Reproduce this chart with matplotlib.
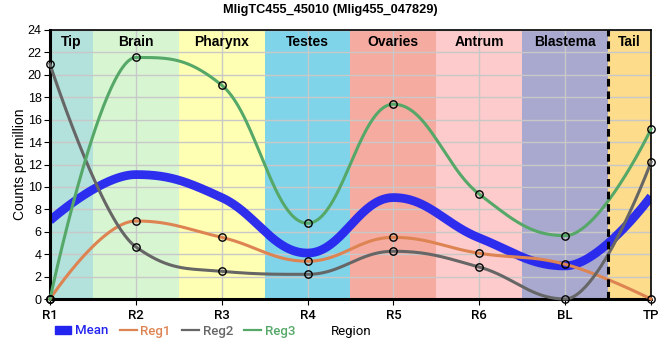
import numpy as np
import matplotlib
matplotlib.use("Agg")
import matplotlib.pyplot as plt
from matplotlib.lines import Line2D
from matplotlib.patches import Patch

plt.rcParams['font.family'] = ['Liberation Sans', 'DejaVu Sans']

# data
cats = ["R1", "R2", "R3", "R4", "R5", "R6", "BL", "TP"]
mean = [7.0, 11.1, 9.05, 4.1, 9.05, 5.45, 2.95, 9.15]
reg1 = [0.0, 6.96, 5.5, 3.37, 5.5, 4.08, 3.1, 0.0]
reg2 = [20.95, 4.65, 2.47, 2.2, 4.26, 2.85, 0.0, 12.2]
reg3 = [0.0, 21.55, 19.08, 6.76, 17.38, 9.35, 5.65, 15.15]

regions = ["Tip", "Brain", "Pharynx", "Testes", "Ovaries", "Antrum", "Blastema", "Tail"]
region_edges = [0, 0.5, 1.5, 2.5, 3.5, 4.5, 5.5, 6.5, 7]
region_colors = ["#b3e1dc", "#d7f5d1", "#ffffb4", "#80d4ea", "#f5ab9f",
                 "#fdcbcb", "#a9a9cf", "#fddc8c"]


def spline(xs, ys, n=60):
    # smooth curve through the points, control points clamped so no false extremes
    npt = len(xs)
    lc = [None] * npt
    rc = [None] * npt
    sm = 1.5
    for i in range(1, npt - 1):
        lx = (sm * xs[i] + xs[i - 1]) / (sm + 1)
        ly = (sm * ys[i] + ys[i - 1]) / (sm + 1)
        rx = (sm * xs[i] + xs[i + 1]) / (sm + 1)
        ry = (sm * ys[i] + ys[i + 1]) / (sm + 1)
        corr = (ry - ly) * (rx - xs[i]) / (rx - lx) + ys[i] - ry
        ly += corr
        ry += corr
        last, cur, nxt = ys[i - 1], ys[i], ys[i + 1]
        if ly > last and ly > cur:
            ly = max(last, cur)
            ry = 2 * cur - ly
        elif ly < last and ly < cur:
            ly = min(last, cur)
            ry = 2 * cur - ly
        if ry > nxt and ry > cur:
            ry = max(nxt, cur)
            ly = 2 * cur - ry
        elif ry < nxt and ry < cur:
            ry = min(nxt, cur)
            ly = 2 * cur - ry
        lc[i] = (lx, ly)
        rc[i] = (rx, ry)
    t = np.linspace(0, 1, n)
    ox, oy = [], []
    for i in range(1, npt):
        p0 = (xs[i - 1], ys[i - 1])
        p1 = rc[i - 1] if rc[i - 1] else p0
        p3 = (xs[i], ys[i])
        p2 = lc[i] if lc[i] else p3
        b = [(1 - t) ** 3, 3 * (1 - t) ** 2 * t, 3 * (1 - t) * t ** 2, t ** 3]
        ox.append(b[0] * p0[0] + b[1] * p1[0] + b[2] * p2[0] + b[3] * p3[0])
        oy.append(b[0] * p0[1] + b[1] * p1[1] + b[2] * p2[1] + b[3] * p3[1])
    return np.concatenate(ox), np.concatenate(oy)


fig = plt.figure(figsize=(6.6, 3.6), dpi=100)
ax = fig.add_axes([50 / 660, 1 - 299 / 360, 601 / 660, 269 / 360])

x = np.arange(len(cats))
for i, name in enumerate(regions):
    ax.axvspan(region_edges[i], region_edges[i + 1], color=region_colors[i], lw=0, zorder=0)
    ax.text((region_edges[i] + region_edges[i + 1]) / 2, 22.9, name, ha='center', va='center',
            fontsize=10, fontweight='bold', zorder=5)

ax.set_axisbelow(True)
ax.grid(True, color='#c8c8c8', lw=1)

c_mean, c1, c2, c3 = '#2424f0', '#dd8452', '#666666', '#55a868'

sx, sy = spline(x, mean)
ax.plot(sx, sy, color=c_mean, lw=6.3, alpha=0.95, solid_capstyle='butt', zorder=2)
for ys, c in [(reg1, c1), (reg2, c2), (reg3, c3)]:
    sx, sy = spline(x, ys)
    ax.plot(sx, sy, color=c, lw=2.2, zorder=3, clip_on=False)
    ax.plot(x, ys, 'o', ms=5.3, mfc='none', mec='black', mew=1, zorder=4, clip_on=False)

ax.axvline(6.5, color='black', lw=2.2, ls=(0, (2.5, 1.6)), zorder=4)

ax.set_xlim(0, 7)
ax.set_ylim(0, 24)
ax.set_xticks(x)
ax.set_xticklabels(cats, fontsize=9.5, family=['Roboto', 'DejaVu Sans'], fontweight='medium')
ax.set_yticks(np.arange(0, 25, 2))
ax.tick_params(axis='y', labelsize=9, length=4, pad=2)
ax.tick_params(axis='x', length=4, pad=3)

for s in ['left', 'bottom']:
    ax.spines[s].set_linewidth(2.2)
for s in ['top', 'right']:
    ax.spines[s].set_linewidth(1.2)

ax.set_ylabel("Counts per million", fontsize=10)
ax.yaxis.set_label_coords(-23 / 601, 0.5)

fig.suptitle("MligTC455_45010 (Mlig455_047829)", fontsize=9.2, fontweight='bold', y=1 - 10 / 360, va='center')

handles = [Patch(color=c_mean),
           Line2D([], [], color=c1, lw=1.6),
           Line2D([], [], color=c2, lw=1.6),
           Line2D([], [], color=c3, lw=1.6)]
labels = ["Mean", "Reg1", "Reg2", "Reg3"]
leg = fig.legend(handles, labels, loc='center left', bbox_to_anchor=(55 / 660, 1 - 331 / 360),
                 ncol=4, frameon=False, handlelength=1.25, handleheight=0.6, handletextpad=0.3,
                 columnspacing=0.85, borderaxespad=0, borderpad=0,
                 prop={'family': ['Roboto', 'DejaVu Sans'], 'weight': 'medium', 'size': 9.5})
for txt, c in zip(leg.get_texts(), [c_mean, c1, c2, c3]):
    txt.set_color(c)

fig.text(351 / 660, 1 - 332 / 360, "Region", ha='center', va='center', fontsize=9.5,
         family=['Roboto', 'DejaVu Sans'])

fig.savefig("out.png", dpi=100)
